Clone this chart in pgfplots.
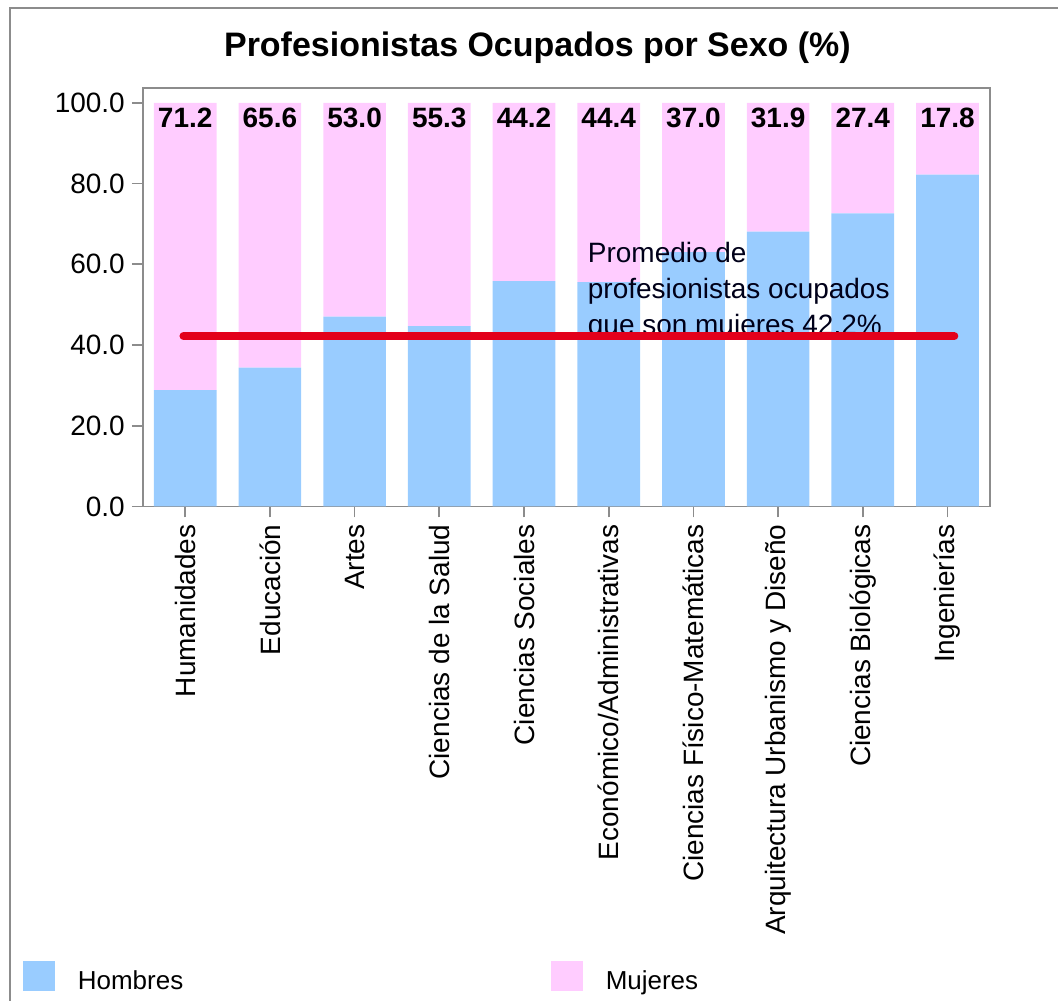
\documentclass[border=0pt]{standalone}
\usepackage{fontspec}
\setmainfont{Liberation Sans}
\usepackage{pgfplots}
\pgfplotsset{compat=1.18}
\definecolor{hom}{HTML}{99CCFF}
\definecolor{muj}{HTML}{FFCCFF}
\definecolor{framec}{HTML}{8C8C8C}
\definecolor{redl}{HTML}{E3001B}
\begin{document}
\begin{tikzpicture}
\begin{axis}[
  set layers,
  scale only axis, width=424pt, height=209.5pt,
  xmin=-0.5, xmax=9.5, ymin=0, ymax=103.7,
  ybar stacked, bar width=0.74,
  clip=false,
  axis line style={draw=framec, line width=0.9pt},
  tick align=outside, tick pos=left,
  major tick length=5.5pt,
  every tick/.style={framec, line width=0.9pt},
  xtick={0,1,2,3,4,5,6,7,8,9},
  xticklabels={Humanidades,Educación,Artes,Ciencias de la Salud,Ciencias Sociales,Económico/Administrativas,Ciencias Físico-Matemáticas,Arquitectura Urbanismo y Diseño,Ciencias Biológicas,Ingenierías},
  xticklabel style={rotate=90, anchor=east, font=\fontsize{14}{16}\selectfont},
  ytick={0,20,40,60,80,100},
  /pgf/number format/assume math mode=true,
  yticklabel style={/pgf/number format/.cd, fixed, fixed zerofill, precision=1, /tikz/.cd, font=\fontsize{14}{16}\selectfont},
  title={Profesionistas Ocupados por Sexo (\%)},
  every axis title shift=0pt,
  title style={at={(0.4658,1.074)}, anchor=base, font=\bfseries\fontsize{17}{20}\selectfont},
  legend columns=2,
  legend style={at={(-0.1415,-1.124)}, anchor=west, draw=none, fill=none, inner sep=0pt, outer sep=0pt,
    nodes={inner sep=0pt, font=\fontsize{13}{15}\selectfont},
    /tikz/every odd column/.append style={column sep=11.5pt},
    /tikz/every even column/.append style={column sep=184pt}},
]
\addplot[fill=hom, draw=none, legend image code/.code={\path[fill=hom] (0pt,-5pt) rectangle (16pt,10pt);}]
  coordinates {(0,28.8) (1,34.4) (2,47.0) (3,44.7) (4,55.8) (5,55.6) (6,63.0) (7,68.1) (8,72.6) (9,82.2)};
\addlegendentry{Hombres}
\addplot[fill=muj, draw=none, legend image code/.code={\path[fill=muj] (0pt,-5pt) rectangle (16pt,10pt);}]
  coordinates {(0,71.2) (1,65.6) (2,53.0) (3,55.3) (4,44.2) (5,44.4) (6,37.0) (7,31.9) (8,27.4) (9,17.8)};
\addlegendentry{Mujeres}
\addplot[stack plots=false, sharp plot, on layer=axis foreground, draw=redl, line width=4pt, line cap=round, fill=none, mark=none, forget plot]
  coordinates {(-0.02,42.2) (9.08,42.2)};
\addplot[stack plots=false, sharp plot, on layer=axis foreground, draw=none, fill=none, mark=none, forget plot,
  point meta=explicit, nodes near coords={\pgfmathprintnumber[fixed,fixed zerofill,precision=1]{\pgfplotspointmeta}},
  every node near coord/.append style={anchor=center, yshift=93.5pt, text=black, font=\bfseries\fontsize{14}{16}\selectfont}]
  coordinates {(0,100) [71.2] (1,100) [65.6] (2,100) [53.0] (3,100) [55.3] (4,100) [44.2] (5,100) [44.4] (6,100) [37.0] (7,100) [31.9] (8,100) [27.4] (9,100) [17.8]};
\coordinate (ann) at (axis cs:4.75,65.6);
\path (rel axis cs:-0.16863,-1.18138) rectangle (rel axis cs:1.08019,1.21002);
\draw[framec, line width=1.2pt] (rel axis cs:-0.15684,-1.18138) -- (rel axis cs:-0.15684,1.19093) -- (rel axis cs:1.08019,1.19093);
\end{axis}
\node[anchor=north west, align=left, inner sep=0pt, font=\fontsize{14}{18}\selectfont, text=black!90!blue]
  at (ann) {Promedio de\\profesionistas ocupados\\que son mujeres 42.2\%};
\end{tikzpicture}
\end{document}
